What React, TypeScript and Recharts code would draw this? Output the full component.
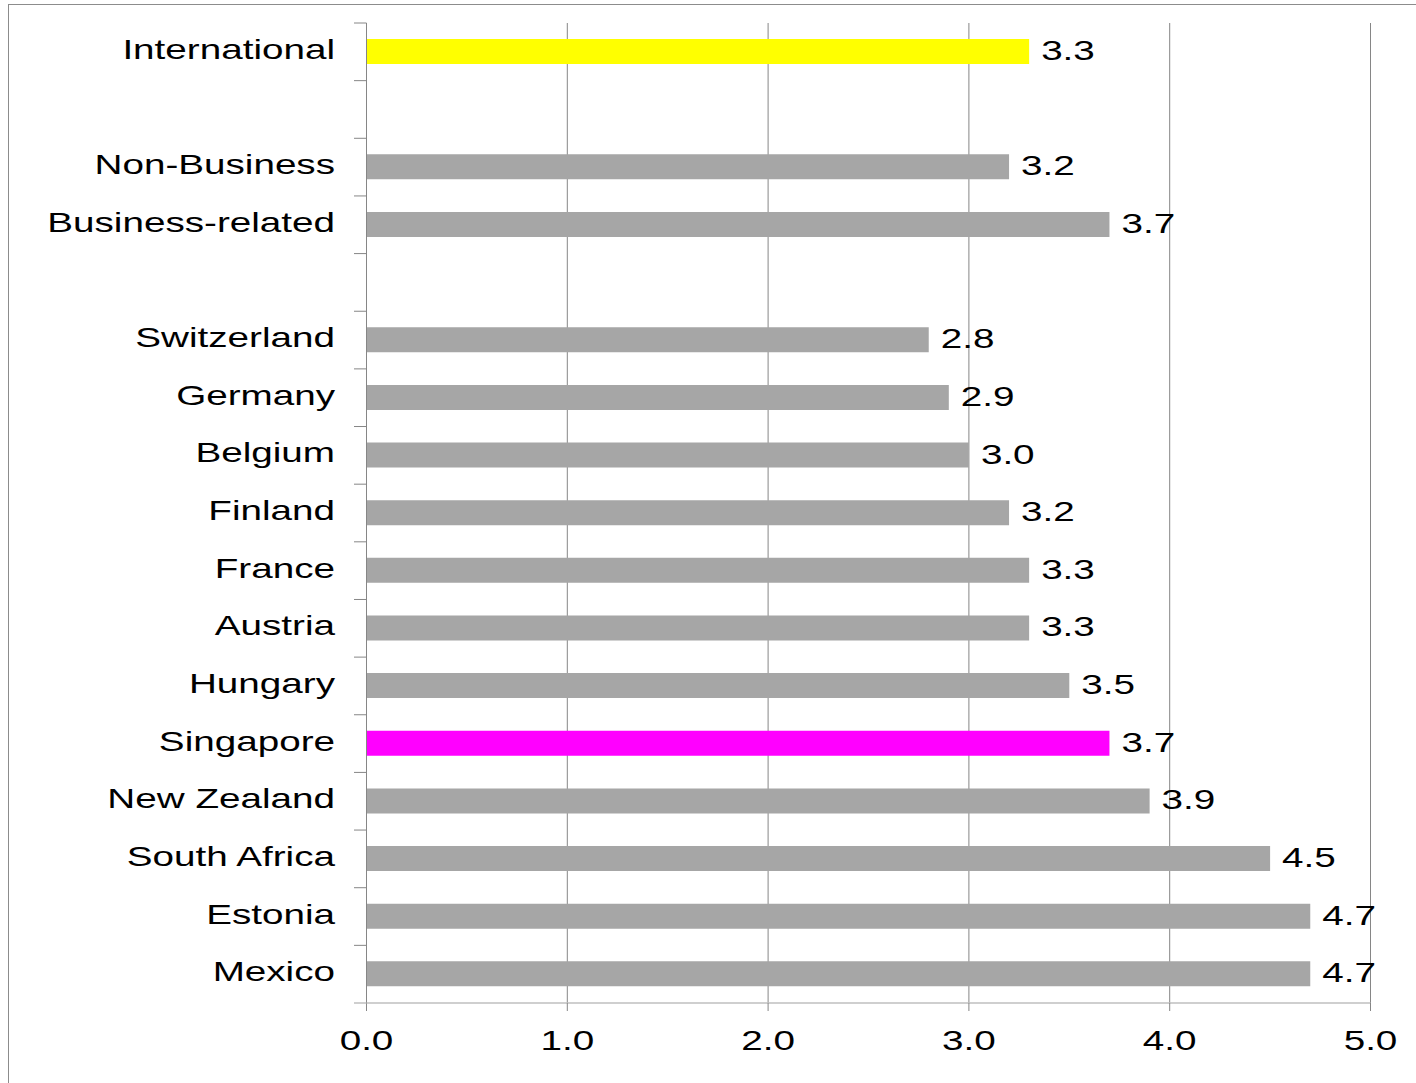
import React from "react";
import { BarChart, Bar, XAxis, YAxis, CartesianGrid, Cell, LabelList } from "recharts";

const categories = [
  "International", "", "Non-Business", "Business-related", "",
  "Switzerland", "Germany", "Belgium", "Finland", "France", "Austria",
  "Hungary", "Singapore", "New Zealand", "South Africa", "Estonia", "Mexico",
];
const values: (number | null)[] = [
  3.3, null, 3.2, 3.7, null,
  2.8, 2.9, 3.0, 3.2, 3.3, 3.3,
  3.5, 3.7, 3.9, 4.5, 4.7, 4.7,
];
const xTicks = [0, 1, 2, 3, 4, 5];
const highlightColors: Record<string, string> = {
  International: "#FFFF00",
  Singapore: "#FF00FF",
};

const data = categories.map((name, i) => ({ id: `c${i}`, name, value: values[i] }));

const FONT = "'Liberation Sans', Arial, sans-serif";
const FS = 28;
const SX = 1.38;
const BAR_GRAY = "#A6A6A6";
const AXIS_GRAY = "#868686";

const YTick = (props: any) => {
  const { y, payload, index } = props;
  const half = payload && payload.offset ? payload.offset : 28.8;
  const label = categories[index] ?? "";
  const top = y - half;
  const bottom = y + half;
  const isLast = index === categories.length - 1;
  return (
    <g>
      <line x1={366.5} x2={354} y1={top} y2={top} stroke={AXIS_GRAY} strokeWidth={1} />
      {isLast && <line x1={366.5} x2={354} y1={bottom} y2={bottom} stroke="#BFBFBF" strokeWidth={1.5} />}
      <text
        transform={`translate(335, ${y + 7}) scale(${SX}, 1)`}
        textAnchor="end"
        fontFamily={FONT}
        fontSize={FS}
        fill="#000"
      >
        {label}
      </text>
    </g>
  );
};

const XTick = (props: any) => {
  const { x, payload } = props;
  return (
    <g>
      <line x1={x} x2={x} y1={1003} y2={1011} stroke={AXIS_GRAY} strokeWidth={1} />
      <text
        transform={`translate(${x}, 1050) scale(${SX}, 1)`}
        textAnchor="middle"
        fontFamily={FONT}
        fontSize={FS}
        fill="#000"
      >
        {Number(payload.value).toFixed(1)}
      </text>
    </g>
  );
};

const ValueLabel = (props: any) => {
  const { x, y, width, height, value } = props;
  if (value === null || value === undefined) return null;
  return (
    <text
      transform={`translate(${x + width + 12}, ${y + height / 2 + 8.5}) scale(${SX}, 1)`}
      textAnchor="start"
      fontFamily={FONT}
      fontSize={FS}
      fill="#000"
    >
      {Number(value).toFixed(1)}
    </text>
  );
};

export default function App() {
  return (
    <div
      style={{
        position: "absolute",
        left: 0,
        top: 0,
        width: 1416,
        height: 1083,
        overflow: "hidden",
        background: "#fff",
      }}
    >
      <div
        style={{
          position: "absolute",
          left: 8,
          top: 4,
          width: 1430,
          height: 1100,
          border: "1.5px solid #8c8c8c",
          boxSizing: "border-box",
        }}
      />
      <div style={{ position: "absolute", left: 0, top: 0 }}>
        <BarChart
          width={1416}
          height={1083}
          data={data}
          layout="vertical"
          margin={{ top: 23, right: 45.5, bottom: 0, left: 0.5 }}
          barCategoryGap={0}
        >
          <CartesianGrid horizontal={false} vertical={true} stroke={AXIS_GRAY} strokeWidth={1} />
          <XAxis
            type="number"
            domain={[0, 5]}
            ticks={xTicks}
            interval={0}
            height={80}
            axisLine={{ stroke: "#BFBFBF", strokeWidth: 1.5 }}
            tickLine={false}
            tick={<XTick />}
          />
          <YAxis
            type="category"
            dataKey="id"
            width={366}
            interval={0}
            axisLine={{ stroke: AXIS_GRAY, strokeWidth: 1 }}
            tickLine={false}
            tick={<YTick />}
          />
          <Bar dataKey="value" barSize={25} isAnimationActive={false}>
            {data.map((d) => (
              <Cell key={d.id} fill={highlightColors[d.name] ?? BAR_GRAY} />
            ))}
            <LabelList dataKey="value" content={<ValueLabel />} />
          </Bar>
        </BarChart>
      </div>
    </div>
  );
}
